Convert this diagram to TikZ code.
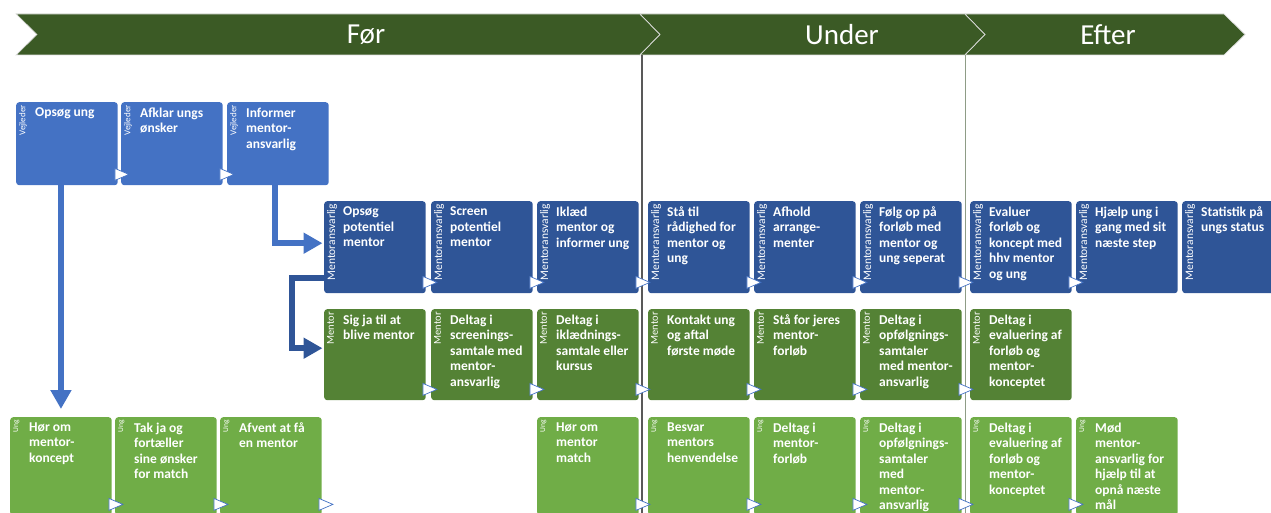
\documentclass[tikz,border=0pt]{standalone}
\usepackage{fontspec}
\setmainfont{Carlito}
\usetikzlibrary{positioning,arrows.meta,calc}

\definecolor{phasegreen}{HTML}{3B5A25}
\definecolor{vejblue}{HTML}{4472C4}
\definecolor{ansblue}{HTML}{2F5597}
\definecolor{mengreen}{HTML}{548235}
\definecolor{unggreen}{HTML}{70AD47}
\definecolor{borderdark}{HTML}{595959}
\definecolor{borderlight}{HTML}{8E9C86}

% one activity box: name, x, y, style, text
\newcommand{\actbox}[5]{%
  \node[#4] (#1) at (#2,#3) {};
  \node[boxtext] (#1t) at ([shift={(19pt,-5.5pt)}]#1.north west) {#5};
}
% small step triangle at the lower right corner of a box
\newcommand{\nexttri}[1]{%
  \draw[tri] ([shift={(-3pt,5pt)}]#1.south east) -- ++(0pt,12pt) -- ++(14pt,-6pt) -- cycle;
}

\begin{document}
\begin{tikzpicture}[x=1pt, y=-1pt,
  box/.style={anchor=north west, rounded corners=3pt, inner sep=0pt, minimum width=101.5pt},
  role/.style={xshift=3pt, yshift=-3pt, rotate=90, anchor=north east, inner sep=0pt, text=white},
  vej/.style={box, fill=vejblue, minimum height=83pt,
    label={[role, font=\fontsize{9}{9}\selectfont]north west:Vejleder}},
  ans/.style={box, fill=ansblue, minimum height=92pt,
    label={[role, font=\fontsize{11.5}{12}\selectfont]north west:Mentoransvarlig}},
  men/.style={box, fill=mengreen, minimum height=91pt,
    label={[role, font=\fontsize{10.5}{11}\selectfont]north west:Mentor}},
  ung/.style={box, fill=unggreen, minimum height=98pt,
    label={[role, font=\fontsize{7.5}{8}\selectfont]north west:Ung}},
  boxtext/.style={anchor=north west, inner sep=0pt, align=left, text=white,
    font=\fontsize{13.5}{15.5}\selectfont\bfseries},
  tri/.style={fill=white, draw=vejblue, line width=0.7pt},
  phase/.style={text=white, font=\fontsize{29}{29}\selectfont},
  chevron/.style={fill=phasegreen, draw=white!75!gray, line width=0.7pt},
  bigarrow/.style={line width=6pt, draw=vejblue, -{Triangle[width=20pt,length=19pt]}}]
  \useasboundingbox (0,0) rectangle (1271,513);
  \clip (0,0) rectangle (1271,513);

  % phases
  \path[chevron] (16,14) -- (640,14) -- (660,34.5) -- (640,55) -- (16,55) -- (37,34.5) -- cycle;
  \path[chevron] (640,14) -- (965,14) -- (985,34.5) -- (965,55) -- (640,55) -- (660,34.5) -- cycle;
  \path[chevron] (965,14) -- (1224,14) -- (1245,34.5) -- (1224,55) -- (965,55) -- (985,34.5) -- cycle;
  \node[phase] (foer) at (366,34.5) {Før};
  \node[phase] (under) at (842,34.5) {Under};
  \node[phase] (efter) at (1108,34.5) {Efter};

  % phase borders
  \draw[line width=1.4pt, draw=borderdark] (642,55) -- (642,513);
  \draw[line width=1.4pt, draw=borderlight] (965.5,55) -- (965.5,513);

  % vejleder
  \actbox{v1}{16}{102}{vej}{Opsøg ung}
  \actbox{v2}{121}{102}{vej}{Afklar ungs\\ønsker}
  \actbox{v3}{227}{102}{vej}{Informer\\mentor-\\ansvarlig}

  % mentoransvarlig
  \actbox{m1}{324}{201}{ans}{Opsøg\\potentiel\\mentor}
  \actbox{m2}{431}{201}{ans}{Screen\\potentiel\\mentor}
  \actbox{m3}{537}{201}{ans}{Iklæd\\mentor og\\informer ung}
  \actbox{m4}{648}{201}{ans}{Stå til\\rådighed for\\mentor og\\ung}
  \actbox{m5}{754}{201}{ans}{Afhold\\arrange-\\menter}
  \actbox{m6}{860}{201}{ans}{Følg op på\\forløb med\\mentor og\\ung seperat}
  \actbox{m7}{970}{201}{ans}{Evaluer\\forløb og\\koncept med\\hhv mentor\\og ung}
  \actbox{m8}{1076}{201}{ans}{Hjælp ung i\\gang med sit\\næste step}
  \actbox{m9}{1182}{201}{ans}{Statistik på\\ungs status}

  % mentor
  \actbox{n1}{324}{309}{men}{Sig ja til at\\blive mentor}
  \actbox{n2}{431}{309}{men}{Deltag i\\screenings-\\samtale med\\mentor-\\ansvarlig}
  \actbox{n3}{537}{309}{men}{Deltag i\\iklædnings-\\samtale eller\\kursus}
  \actbox{n4}{648}{309}{men}{Kontakt ung\\og aftal\\første møde}
  \actbox{n5}{754}{309}{men}{Stå for jeres\\mentor-\\forløb}
  \actbox{n6}{860}{309}{men}{Deltag i\\opfølgnings-\\samtaler\\med mentor-\\ansvarlig}
  \actbox{n7}{970}{309}{men}{Deltag i\\evaluering af\\forløb og\\mentor-\\konceptet}

  % ung
  \actbox{u1}{10}{417}{ung}{Hør om\\mentor-\\koncept}
  \actbox{u2}{115}{417}{ung}{Tak ja og\\fortæller\\sine ønsker\\for match}
  \actbox{u3}{220}{417}{ung}{Afvent at få\\en mentor}
  \actbox{u4}{537}{417}{ung}{Hør om\\mentor\\match}
  \actbox{u5}{648}{417}{ung}{Besvar\\mentors\\henvendelse}
  \actbox{u6}{754}{417}{ung}{Deltag i\\mentor-\\forløb}
  \actbox{u7}{860}{417}{ung}{Deltag i\\opfølgnings-\\samtaler\\med\\mentor-\\ansvarlig}
  \actbox{u8}{970}{417}{ung}{Deltag i\\evaluering af\\forløb og\\mentor-\\konceptet}
  \actbox{u9}{1076}{417}{ung}{Mød\\mentor-\\ansvarlig for\\hjælp til at\\opnå næste\\mål}

  % steps
  \foreach \b in {v1,v2,m1,m2,m3,m4,m5,m6,m7,n1,n2,n3,n4,n5,n6,u1,u2,u3,u4,u5,u6,u7,u8}
    {\nexttri{\b}}

  % hand-overs
  \draw[bigarrow, shorten >=8pt] (u1.north |- v1.south) -- (u1.north);
  \draw[bigarrow, shorten >=1.5pt] ([xshift=-2.5pt]v3.south) |- ([yshift=4pt]m1.west);
  \draw[bigarrow, draw=ansblue, shorten >=1.5pt] ([yshift=-31pt]m1.west) -- ++(-32pt,0pt)
    |- ([yshift=6.5pt]n1.west);
\end{tikzpicture}
\end{document}
